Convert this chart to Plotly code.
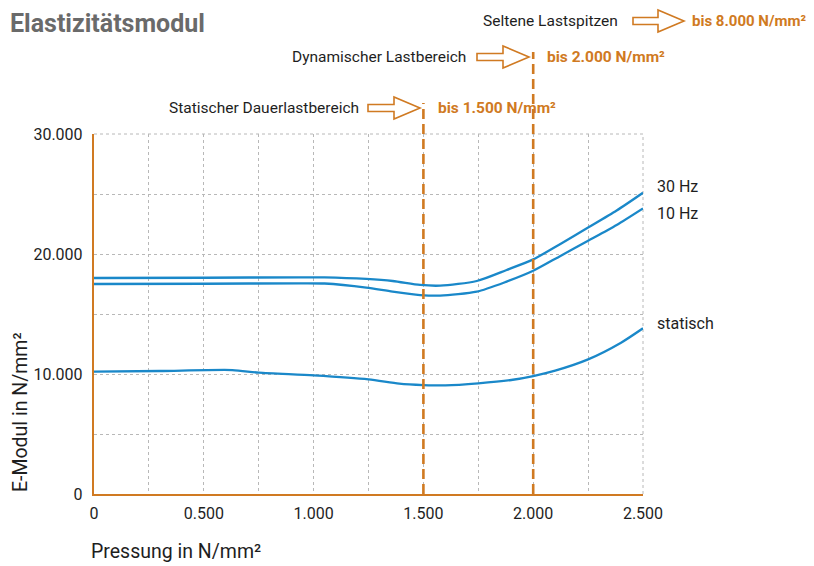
import plotly.graph_objects as go

# ---------------- data ----------------
x_30hz = [0, 0.5, 0.94, 1.05, 1.24, 1.36, 1.485, 1.576, 1.743, 1.879, 2.0, 2.12, 2.25, 2.38, 2.5]
y_30hz = [18000, 18020, 18060, 18050, 17920, 17750, 17420, 17360, 17750, 18670, 19550, 20800, 22200, 23620, 25100]

x_10hz = [0, 0.5, 0.94, 1.05, 1.24, 1.36, 1.485, 1.576, 1.743, 1.879, 2.0, 2.12, 2.25, 2.38, 2.5]
y_10hz = [17500, 17520, 17560, 17540, 17200, 16860, 16580, 16530, 16860, 17700, 18600, 19800, 21100, 22420, 23800]

x_stat = [0, 0.3, 0.63, 0.75, 1.0, 1.25, 1.39, 1.5, 1.6, 1.75, 1.9, 2.0, 2.1, 2.25, 2.4, 2.5]
y_stat = [10200, 10250, 10330, 10110, 9890, 9560, 9200, 9080, 9050, 9220, 9500, 9830, 10280, 11220, 12610, 13810]

series_names = ["30 Hz", "10 Hz", "statisch"]
label_y = [25600, 23400, 14250]

x_ticks = [0, 0.5, 1.0, 1.5, 2.0, 2.5]
x_ticklabels = ["0", "0.500", "1.000", "1.500", "2.000", "2.500"]
y_ticks = [0, 10000, 20000, 30000]
y_ticklabels = ["0", "10.000", "20.000", "30.000"]

limit_x = [1.5, 2.0]
ranges = ["Statischer Dauerlastbereich", "Dynamischer Lastbereich", "Seltene Lastspitzen"]
range_values = ["bis 1.500 N/mm²", "bis 2.000 N/mm²", "bis 8.000 N/mm²"]

# ---------------- style ----------------
BLUE = "#1a88c9"
ORANGE = "#d07a22"
TXT = "#1e1e1e"
FONT = "Roboto, Liberation Sans, sans-serif"

OFF = 8                      # page body margin of the browser
W, H = 814 - OFF, 566 - OFF
L, R, T, B = 94, 643, 134, 494   # plot area in reference pixels


def px(x):
    return (x - L) / (R - L)


def py(y):
    return (B - y) / (B - T)


fig = go.Figure()
for xs, ys, name in zip([x_30hz, x_10hz, x_stat], [y_30hz, y_10hz, y_stat], series_names):
    fig.add_trace(go.Scatter(x=xs, y=ys, mode="lines", name=name,
                             line=dict(color=BLUE, width=2.3, shape="spline", smoothing=0.7),
                             showlegend=False, hoverinfo="skip"))

annotations = []
for name, yl in zip(series_names, label_y):
    annotations.append(dict(x=2.5, y=yl, xref="x", yref="y", text=name, showarrow=False,
                            xanchor="left", xshift=12, font=dict(size=16, color=TXT, family=FONT)))

shapes = []
limit_tops = [103, 52]
for xv, top in zip(limit_x, limit_tops):
    shapes.append(dict(type="line", xref="x", yref="paper", x0=xv, x1=xv, y0=0, y1=py(top),
                       line=dict(color=ORANGE, width=2.6, dash="10px,5px"), layer="above"))


def arrow_path(x0, tip, cy, shaft_h=3.5, head_h=11, head_len=26):
    xh = tip - head_len
    pts = [(x0, cy - shaft_h), (xh, cy - shaft_h), (xh, cy - head_h), (tip, cy),
           (xh, cy + head_h), (xh, cy + shaft_h), (x0, cy + shaft_h)]
    return "M " + " L ".join(f"{px(a):.5f},{py(b):.5f}" for a, b in pts) + " Z"


rows = [
    dict(text_right=361, a0=368, tip=420, cy=108, val_left=436, vsize=15.5),
    dict(text_right=468, a0=477, tip=529, cy=57, val_left=545, vsize=15.5),
    dict(text_right=620, a0=633, tip=684, cy=21, val_left=690, vsize=15),
]
for row, rtxt, vtxt in zip(rows, ranges, range_values):
    shapes.append(dict(type="path", xref="paper", yref="paper",
                       path=arrow_path(row["a0"], row["tip"], row["cy"]),
                       line=dict(color=ORANGE, width=1.6), fillcolor="rgba(0,0,0,0)"))
    annotations.append(dict(x=px(row["text_right"]), y=py(row["cy"]), xref="paper", yref="paper",
                            text=rtxt, showarrow=False, xanchor="right", yanchor="middle",
                            font=dict(size=15.5, color=TXT, family=FONT)))
    annotations.append(dict(x=px(row["val_left"]), y=py(row["cy"]), xref="paper", yref="paper",
                            text="<b>" + vtxt + "</b>", showarrow=False, xanchor="left", yanchor="middle",
                            font=dict(size=row["vsize"], color=ORANGE, family=FONT)))

annotations.append(dict(x=px(OFF + 1), y=py(OFF), xref="paper", yref="paper", text="<b>Elastizitätsmodul</b>",
                        showarrow=False, xanchor="left", yanchor="top", borderpad=0,
                        font=dict(size=25, color="#6a6a6a", family=FONT)))
annotations.append(dict(x=px(89), y=py(551), xref="paper", yref="paper", text="Pressung in N/mm²",
                        showarrow=False, xanchor="left", yanchor="middle",
                        font=dict(size=19.5, color=TXT, family=FONT)))
annotations.append(dict(x=px(20), y=py(412), xref="paper", yref="paper", text="E-Modul in N/mm²",
                        showarrow=False, xanchor="center", yanchor="middle", textangle=-90,
                        font=dict(size=19.5, color=TXT, family=FONT)))

GRID = "#b8b8b8"
fig.update_layout(
    width=W, height=H,
    margin=dict(l=L - OFF, r=W - (R - OFF), t=T - OFF, b=H - (B - OFF), pad=0),
    paper_bgcolor="white", plot_bgcolor="white",
    shapes=shapes, annotations=annotations,
    font=dict(family=FONT, color=TXT, size=16),
    xaxis=dict(range=[0, 2.5], tickvals=x_ticks, ticktext=x_ticklabels, showgrid=True,
               gridcolor=GRID, griddash="dot", gridwidth=1,
               minor=dict(dtick=0.25, tick0=0, showgrid=True, gridcolor=GRID, griddash="dot", gridwidth=1),
               showline=True, linecolor=ORANGE, linewidth=2.4, zeroline=False, ticks="",
               ticklabelstandoff=4, tickfont=dict(size=16, color=TXT, family=FONT)),
    yaxis=dict(range=[0, 30000], tickvals=y_ticks, ticktext=y_ticklabels, showgrid=True,
               gridcolor=GRID, griddash="dot", gridwidth=1,
               minor=dict(dtick=5000, tick0=0, showgrid=True, gridcolor=GRID, griddash="dot", gridwidth=1),
               showline=True, linecolor=ORANGE, linewidth=2.4, zeroline=False, ticks="",
               ticklabelstandoff=6, tickfont=dict(size=16, color=TXT, family=FONT)),
)
fig.add_shape(type="line", xref="paper", yref="paper", x0=1, x1=1, y0=0, y1=1,
              line=dict(color=GRID, width=1, dash="dot"), layer="below")
fig.add_shape(type="line", xref="paper", yref="paper", x0=0, x1=1, y0=1, y1=1,
              line=dict(color=GRID, width=1, dash="dot"), layer="below")

fig.write_html("out.html")
